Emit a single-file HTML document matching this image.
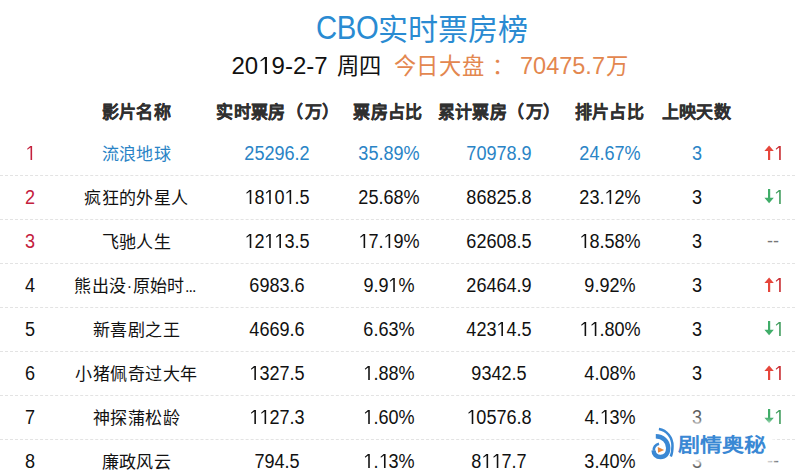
<!DOCTYPE html>
<html lang="zh-CN">
<head>
<meta charset="utf-8">
<style>
html,body{margin:0;padding:0;background:#fff;}
body{width:795px;height:475px;overflow:hidden;position:relative;font-family:"Liberation Sans",sans-serif;color:#111;}
svg.one{width:0.556em;height:0.716em;vertical-align:baseline;fill:currentColor;display:inline;}
.a{position:absolute;white-space:nowrap;}
.tt{top:10px;font-size:30px;line-height:40px;color:#2a8bd2;}
.sub{top:50px;line-height:32px;font-size:24px;}
.sub.z{font-size:22.3px;top:51px;}
.o{color:#e3874f;}
.hd{position:absolute;top:92.5px;height:40px;line-height:40px;font-size:17px;font-weight:bold;color:#303030;-webkit-text-stroke:0.2px #303030;width:200px;text-align:center;letter-spacing:0.3px;}
.sep{position:absolute;left:0;width:795px;height:0;border-top:1px dashed #e3e3e3;}
.row{position:absolute;left:0;width:795px;height:44px;}
.c{position:absolute;top:0;height:44px;line-height:44px;width:200px;text-align:center;font-size:19.5px;transform:scaleX(0.927);}
.c.nm{font-size:17px;letter-spacing:0.45px;top:1.5px;font-weight:350;transform:none;}
.c.nm .lt{font-size:16px;}
.r1 .c{color:#2a84c6;}
.c.red{color:#c4213d !important;}
.tr{position:absolute;top:0;height:44px;left:764px;width:30px;}
.tr .ar{position:absolute;left:0;top:14px;}
.tr .n{position:absolute;left:10px;top:0px;line-height:44px;font-size:19.5px;transform:scaleX(0.927);transform-origin:0 0;}
.tr .dash{position:absolute;left:3px;top:0;line-height:44px;font-size:18px;color:#777;}
#wm{position:absolute;left:641px;top:426px;width:129px;height:33px;background:#fff;box-shadow:0 0 5px 4px rgba(255,255,255,0.9);}
#wm2{position:absolute;left:648px;top:406px;width:114px;height:62px;background:rgba(255,255,255,0.32);box-shadow:0 0 3px 2px rgba(255,255,255,0.3);}
#wmt{position:absolute;left:678px;top:428px;font-size:22px;line-height:34px;font-weight:900;color:#3a88d4;transform:scaleY(0.9);transform-origin:0 26px;}
#logo{position:absolute;left:648px;top:424px;}
</style>
</head>
<body>
<div class="a tt" style="left:315.7px;font-size:32.5px;top:8px;transform:scaleX(0.9);transform-origin:0 0;letter-spacing:-0.3px">CBO</div><div class="a tt" style="left:378px">实时票房榜</div>
<div class="a sub" style="left:231.5px">20<svg class="one" viewBox="0 0 556 716"><path d="M374 0 L374 716 L286 716 L286 78 L116 190 L98 146 L272 0 Z"/></svg>9-2-7</div>
<div class="a sub z" style="left:337px;letter-spacing:0.4px">周四</div>
<div class="a sub z o" style="left:393.5px;letter-spacing:0.8px">今日大盘</div>
<div class="a sub z o" style="left:492px">：</div>
<div class="a sub o" style="left:520px;font-size:23.5px">70475.7</div>
<div class="a sub z o" style="left:605.5px">万</div>
<div class="hd" style="left:36.5px">影片名称</div>
<div class="hd" style="left:177.8px">实时票房<span style='letter-spacing:2px'>（</span><span style='letter-spacing:0.4px'>万</span>）</div>
<div class="hd" style="left:288.0px">票房占比</div>
<div class="hd" style="left:399.3px">累计票房<span style='letter-spacing:2px'>（</span><span style='letter-spacing:0.4px'>万</span>）</div>
<div class="hd" style="left:509.5px">排片占比</div>
<div class="hd" style="left:596.5px">上映天数</div>
<div class="sep" style="top:175px"></div>
<div class="sep" style="top:219px"></div>
<div class="sep" style="top:263px"></div>
<div class="sep" style="top:307px"></div>
<div class="sep" style="top:351px"></div>
<div class="sep" style="top:395px"></div>
<div class="sep" style="top:439px"></div>
<div class="row r1" style="top:131px">
<div class="c red" style="left:-70.5px"><svg class="one" viewBox="0 0 556 716"><path d="M374 0 L374 716 L286 716 L286 78 L116 190 L98 146 L272 0 Z"/></svg></div>
<div class="c nm" style="left:36.5px">流浪地球</div>
<div class="c" style="left:177.0px">25296.2</div>
<div class="c" style="left:288.5px">35.89%</div>
<div class="c" style="left:399.0px">70978.9</div>
<div class="c" style="left:510.0px">24.67%</div>
<div class="c" style="left:597.0px">3</div>
<div class="tr"><svg class="ar" width="11" height="16" viewBox="0 0 11 16"><path d="M5.1 0.6 L9.8 6 L6.2 6 L6.2 14.9 L4 14.9 L4 6 L0.4 6 Z" fill="#e6463b"/></svg><span class="n" style="color:#c8282e"><svg class="one" viewBox="0 0 556 716"><path d="M374 0 L374 716 L286 716 L286 78 L116 190 L98 146 L272 0 Z"/></svg></span></div>
</div>
<div class="row" style="top:175px">
<div class="c red" style="left:-70.5px">2</div>
<div class="c nm" style="left:36.5px">疯狂的外星人</div>
<div class="c" style="left:177.0px"><svg class="one" viewBox="0 0 556 716"><path d="M374 0 L374 716 L286 716 L286 78 L116 190 L98 146 L272 0 Z"/></svg>8<svg class="one" viewBox="0 0 556 716"><path d="M374 0 L374 716 L286 716 L286 78 L116 190 L98 146 L272 0 Z"/></svg>0<svg class="one" viewBox="0 0 556 716"><path d="M374 0 L374 716 L286 716 L286 78 L116 190 L98 146 L272 0 Z"/></svg>.5</div>
<div class="c" style="left:288.5px">25.68%</div>
<div class="c" style="left:399.0px">86825.8</div>
<div class="c" style="left:510.0px">23.<svg class="one" viewBox="0 0 556 716"><path d="M374 0 L374 716 L286 716 L286 78 L116 190 L98 146 L272 0 Z"/></svg>2%</div>
<div class="c" style="left:597.0px">3</div>
<div class="tr"><svg class="ar" width="11" height="16" viewBox="0 0 11 16"><path d="M4 0 L6.2 0 L6.2 8.8 L9.8 8.8 L5.1 14.3 L0.4 8.8 L4 8.8 Z" fill="#40ad69"/></svg><span class="n" style="color:#3f9c5c"><svg class="one" viewBox="0 0 556 716"><path d="M374 0 L374 716 L286 716 L286 78 L116 190 L98 146 L272 0 Z"/></svg></span></div>
</div>
<div class="row" style="top:219px">
<div class="c red" style="left:-70.5px">3</div>
<div class="c nm" style="left:36.5px">飞驰人生</div>
<div class="c" style="left:177.0px"><svg class="one" viewBox="0 0 556 716"><path d="M374 0 L374 716 L286 716 L286 78 L116 190 L98 146 L272 0 Z"/></svg>2<svg class="one" viewBox="0 0 556 716"><path d="M374 0 L374 716 L286 716 L286 78 L116 190 L98 146 L272 0 Z"/></svg><svg class="one" viewBox="0 0 556 716"><path d="M374 0 L374 716 L286 716 L286 78 L116 190 L98 146 L272 0 Z"/></svg>3.5</div>
<div class="c" style="left:288.5px"><svg class="one" viewBox="0 0 556 716"><path d="M374 0 L374 716 L286 716 L286 78 L116 190 L98 146 L272 0 Z"/></svg>7.<svg class="one" viewBox="0 0 556 716"><path d="M374 0 L374 716 L286 716 L286 78 L116 190 L98 146 L272 0 Z"/></svg>9%</div>
<div class="c" style="left:399.0px">62608.5</div>
<div class="c" style="left:510.0px"><svg class="one" viewBox="0 0 556 716"><path d="M374 0 L374 716 L286 716 L286 78 L116 190 L98 146 L272 0 Z"/></svg>8.58%</div>
<div class="c" style="left:597.0px">3</div>
<div class="tr"><span class="dash">--</span></div>
</div>
<div class="row" style="top:263px">
<div class="c" style="left:-70.5px">4</div>
<div class="c nm" style="left:35.0px">熊出没<span class='lt'>·</span>原始时<span class='lt' style='letter-spacing:-0.9px'>...</span></div>
<div class="c" style="left:177.0px">6983.6</div>
<div class="c" style="left:288.5px">9.9<svg class="one" viewBox="0 0 556 716"><path d="M374 0 L374 716 L286 716 L286 78 L116 190 L98 146 L272 0 Z"/></svg>%</div>
<div class="c" style="left:399.0px">26464.9</div>
<div class="c" style="left:510.0px">9.92%</div>
<div class="c" style="left:597.0px">3</div>
<div class="tr"><svg class="ar" width="11" height="16" viewBox="0 0 11 16"><path d="M5.1 0.6 L9.8 6 L6.2 6 L6.2 14.9 L4 14.9 L4 6 L0.4 6 Z" fill="#e6463b"/></svg><span class="n" style="color:#c8282e"><svg class="one" viewBox="0 0 556 716"><path d="M374 0 L374 716 L286 716 L286 78 L116 190 L98 146 L272 0 Z"/></svg></span></div>
</div>
<div class="row" style="top:307px">
<div class="c" style="left:-70.5px">5</div>
<div class="c nm" style="left:36.5px">新喜剧之王</div>
<div class="c" style="left:177.0px">4669.6</div>
<div class="c" style="left:288.5px">6.63%</div>
<div class="c" style="left:399.0px">423<svg class="one" viewBox="0 0 556 716"><path d="M374 0 L374 716 L286 716 L286 78 L116 190 L98 146 L272 0 Z"/></svg>4.5</div>
<div class="c" style="left:510.0px"><svg class="one" viewBox="0 0 556 716"><path d="M374 0 L374 716 L286 716 L286 78 L116 190 L98 146 L272 0 Z"/></svg><svg class="one" viewBox="0 0 556 716"><path d="M374 0 L374 716 L286 716 L286 78 L116 190 L98 146 L272 0 Z"/></svg>.80%</div>
<div class="c" style="left:597.0px">3</div>
<div class="tr"><svg class="ar" width="11" height="16" viewBox="0 0 11 16"><path d="M4 0 L6.2 0 L6.2 8.8 L9.8 8.8 L5.1 14.3 L0.4 8.8 L4 8.8 Z" fill="#40ad69"/></svg><span class="n" style="color:#3f9c5c"><svg class="one" viewBox="0 0 556 716"><path d="M374 0 L374 716 L286 716 L286 78 L116 190 L98 146 L272 0 Z"/></svg></span></div>
</div>
<div class="row" style="top:351px">
<div class="c" style="left:-70.5px">6</div>
<div class="c nm" style="left:36.5px">小猪佩奇过大年</div>
<div class="c" style="left:177.0px"><svg class="one" viewBox="0 0 556 716"><path d="M374 0 L374 716 L286 716 L286 78 L116 190 L98 146 L272 0 Z"/></svg>327.5</div>
<div class="c" style="left:288.5px"><svg class="one" viewBox="0 0 556 716"><path d="M374 0 L374 716 L286 716 L286 78 L116 190 L98 146 L272 0 Z"/></svg>.88%</div>
<div class="c" style="left:399.0px">9342.5</div>
<div class="c" style="left:510.0px">4.08%</div>
<div class="c" style="left:597.0px">3</div>
<div class="tr"><svg class="ar" width="11" height="16" viewBox="0 0 11 16"><path d="M5.1 0.6 L9.8 6 L6.2 6 L6.2 14.9 L4 14.9 L4 6 L0.4 6 Z" fill="#e6463b"/></svg><span class="n" style="color:#c8282e"><svg class="one" viewBox="0 0 556 716"><path d="M374 0 L374 716 L286 716 L286 78 L116 190 L98 146 L272 0 Z"/></svg></span></div>
</div>
<div class="row" style="top:395px">
<div class="c" style="left:-70.5px">7</div>
<div class="c nm" style="left:36.5px">神探蒲松龄</div>
<div class="c" style="left:177.0px"><svg class="one" viewBox="0 0 556 716"><path d="M374 0 L374 716 L286 716 L286 78 L116 190 L98 146 L272 0 Z"/></svg><svg class="one" viewBox="0 0 556 716"><path d="M374 0 L374 716 L286 716 L286 78 L116 190 L98 146 L272 0 Z"/></svg>27.3</div>
<div class="c" style="left:288.5px"><svg class="one" viewBox="0 0 556 716"><path d="M374 0 L374 716 L286 716 L286 78 L116 190 L98 146 L272 0 Z"/></svg>.60%</div>
<div class="c" style="left:399.0px"><svg class="one" viewBox="0 0 556 716"><path d="M374 0 L374 716 L286 716 L286 78 L116 190 L98 146 L272 0 Z"/></svg>0576.8</div>
<div class="c" style="left:510.0px">4.<svg class="one" viewBox="0 0 556 716"><path d="M374 0 L374 716 L286 716 L286 78 L116 190 L98 146 L272 0 Z"/></svg>3%</div>
<div class="c" style="left:597.0px">3</div>
<div class="tr"><svg class="ar" width="11" height="16" viewBox="0 0 11 16"><path d="M4 0 L6.2 0 L6.2 8.8 L9.8 8.8 L5.1 14.3 L0.4 8.8 L4 8.8 Z" fill="#40ad69"/></svg><span class="n" style="color:#3f9c5c"><svg class="one" viewBox="0 0 556 716"><path d="M374 0 L374 716 L286 716 L286 78 L116 190 L98 146 L272 0 Z"/></svg></span></div>
</div>
<div class="row" style="top:439px">
<div class="c" style="left:-70.5px">8</div>
<div class="c nm" style="left:36.5px">廉政风云</div>
<div class="c" style="left:177.0px">794.5</div>
<div class="c" style="left:288.5px"><svg class="one" viewBox="0 0 556 716"><path d="M374 0 L374 716 L286 716 L286 78 L116 190 L98 146 L272 0 Z"/></svg>.<svg class="one" viewBox="0 0 556 716"><path d="M374 0 L374 716 L286 716 L286 78 L116 190 L98 146 L272 0 Z"/></svg>3%</div>
<div class="c" style="left:399.0px">8<svg class="one" viewBox="0 0 556 716"><path d="M374 0 L374 716 L286 716 L286 78 L116 190 L98 146 L272 0 Z"/></svg><svg class="one" viewBox="0 0 556 716"><path d="M374 0 L374 716 L286 716 L286 78 L116 190 L98 146 L272 0 Z"/></svg>7.7</div>
<div class="c" style="left:510.0px">3.40%</div>
<div class="c" style="left:597.0px">3</div>
<div class="tr"><span class="dash">--</span></div>
</div>
<div id="wm2"></div><div id="wm"></div>
<svg id="logo" width="30" height="38" viewBox="0 0 30 38">
<path d="M7.8 12.3 C14.8 12.3 20.2 17 20.2 24 C20.2 30 17 33 12.6 33 C8.2 33 5.6 30 5.6 26.5" fill="none" stroke="#3a88d4" stroke-width="4.4"/>
<path d="M5.8 26.8 C5.6 23.2 7.8 20.6 11 19.8" fill="none" stroke="#3a88d4" stroke-width="2.6"/>
<path d="M10.9 5.0 C18.8 6.4 24.5 13.2 24.5 21.8 C24.5 26.5 24 29.8 22.8 32.6" fill="none" stroke="#3a88d4" stroke-width="2.5"/>
<path d="M9.8 23 L16.2 26 L10 28.8 Z" fill="#e8873a"/>
</svg>
<div class="a" id="wmt">剧情奥秘</div>
</body>
</html>
